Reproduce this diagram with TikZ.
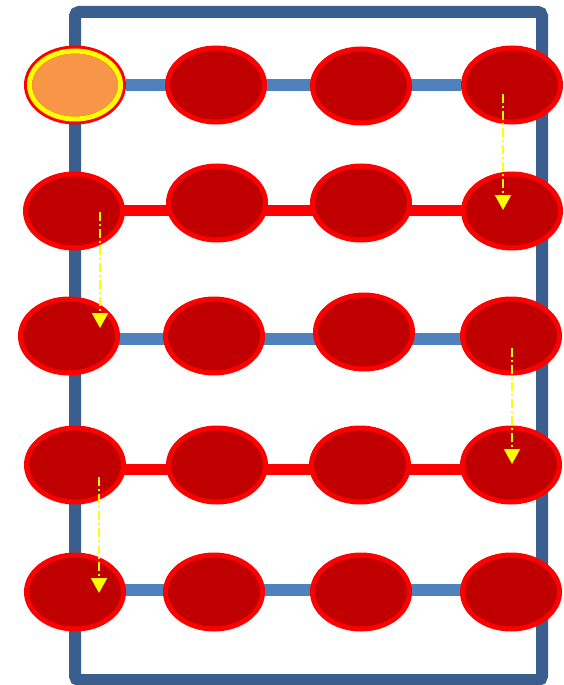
\documentclass[tikz,border=0pt]{standalone}
\usetikzlibrary{shapes.geometric,arrows.meta,backgrounds}
\definecolor{framecol}{HTML}{3A5F8E}
\definecolor{bluelink}{HTML}{4F81BD}
\definecolor{redlink}{HTML}{FF0000}
\definecolor{beadfill}{HTML}{C00000}
\definecolor{startfill}{HTML}{F79646}
\definecolor{pathcol}{HTML}{FFFF00}
\tikzset{
  bead/.style={ellipse, draw=redlink, fill=beadfill, line width=5pt,
    minimum width=97pt, minimum height=74pt, inner sep=0pt},
  startbead/.style={ellipse, draw=redlink, fill=startfill, line width=8pt,
    minimum width=94pt, minimum height=71pt, inner sep=0pt},
  startring/.style={ellipse, draw=pathcol, line width=5pt,
    minimum width=91pt, minimum height=68pt, inner sep=0pt},
  bluebar/.style={draw=bluelink, line width=12pt},
  redbar/.style={draw=redlink, line width=11pt},
  framebox/.style={draw=framecol, line width=12pt, rounded corners=4pt},
  snake/.style={draw=pathcol, line width=2pt,
    dash pattern=on 9pt off 3pt on 2pt off 3pt,
    -{Triangle[width=16pt,length=15pt,fill=pathcol]}},
}
\begin{document}
\begin{tikzpicture}[x=1pt,y=-1pt]
\useasboundingbox (0,0) rectangle (563,685);

% beads, row by row
\node[startbead] (r1c1) at (75,85) {};
\node[startring] at (r1c1.center) {};
\node[bead] (r1c2) at (216,85) {};
\node[bead] (r1c3) at (361,86) {};
\node[bead] (r1c4) at (512,85) {};

\node[bead] (r2c1) at (74,211) {};
\node[bead] (r2c2) at (217,203) {};
\node[bead] (r2c3) at (361,203) {};
\node[bead] (r2c4) at (512,211) {};

\node[bead] (r3c1) at (69,336) {};
\node[bead] (r3c2) at (214,336) {};
\node[bead] (r3c3) at (364,332) {};
\node[bead] (r3c4) at (511,336) {};

\node[bead] (r4c1) at (75,465) {};
\node[bead] (r4c2) at (217,465) {};
\node[bead] (r4c3) at (360,465) {};
\node[bead] (r4c4) at (511,465) {};

\node[bead] (r5c1) at (75,592) {};
\node[bead] (r5c2) at (214,592) {};
\node[bead] (r5c3) at (361,592) {};
\node[bead] (r5c4) at (511,592) {};

% frame and rods behind the beads
\begin{scope}[on background layer]
  \coordinate (ftl) at (75,12);
  \coordinate (fbr) at (542,680);
  \draw[framebox] (ftl) rectangle (fbr);
  \draw[bluebar] (r1c1) -- (r1c4);
  \draw[redbar] ([yshift=1pt]r2c1.center) -- ([yshift=1pt]r2c4.center);
  \draw[bluebar] ([yshift=-3pt]r3c1.center) -- ([yshift=-3pt]r3c4.center);
  \draw[redbar] ([yshift=-4pt]r4c1.center) -- ([yshift=-4pt]r4c4.center);
  \draw[bluebar] ([yshift=2pt]r5c1.center) -- ([yshift=2pt]r5c4.center);
\end{scope}

% dash-dot path markers
\coordinate (a1s) at (503,94);
\coordinate (a1e) at (503,210);
\coordinate (a2s) at (100,212);
\coordinate (a2e) at (100,328);
\coordinate (a3s) at (512,348);
\coordinate (a3e) at (512,464);
\coordinate (a4s) at (99,477);
\coordinate (a4e) at (99,593);
\draw[snake] (a1s) -- (a1e);
\draw[snake] (a2s) -- (a2e);
\draw[snake] (a3s) -- (a3e);
\draw[snake] (a4s) -- (a4e);
\end{tikzpicture}
\end{document}
